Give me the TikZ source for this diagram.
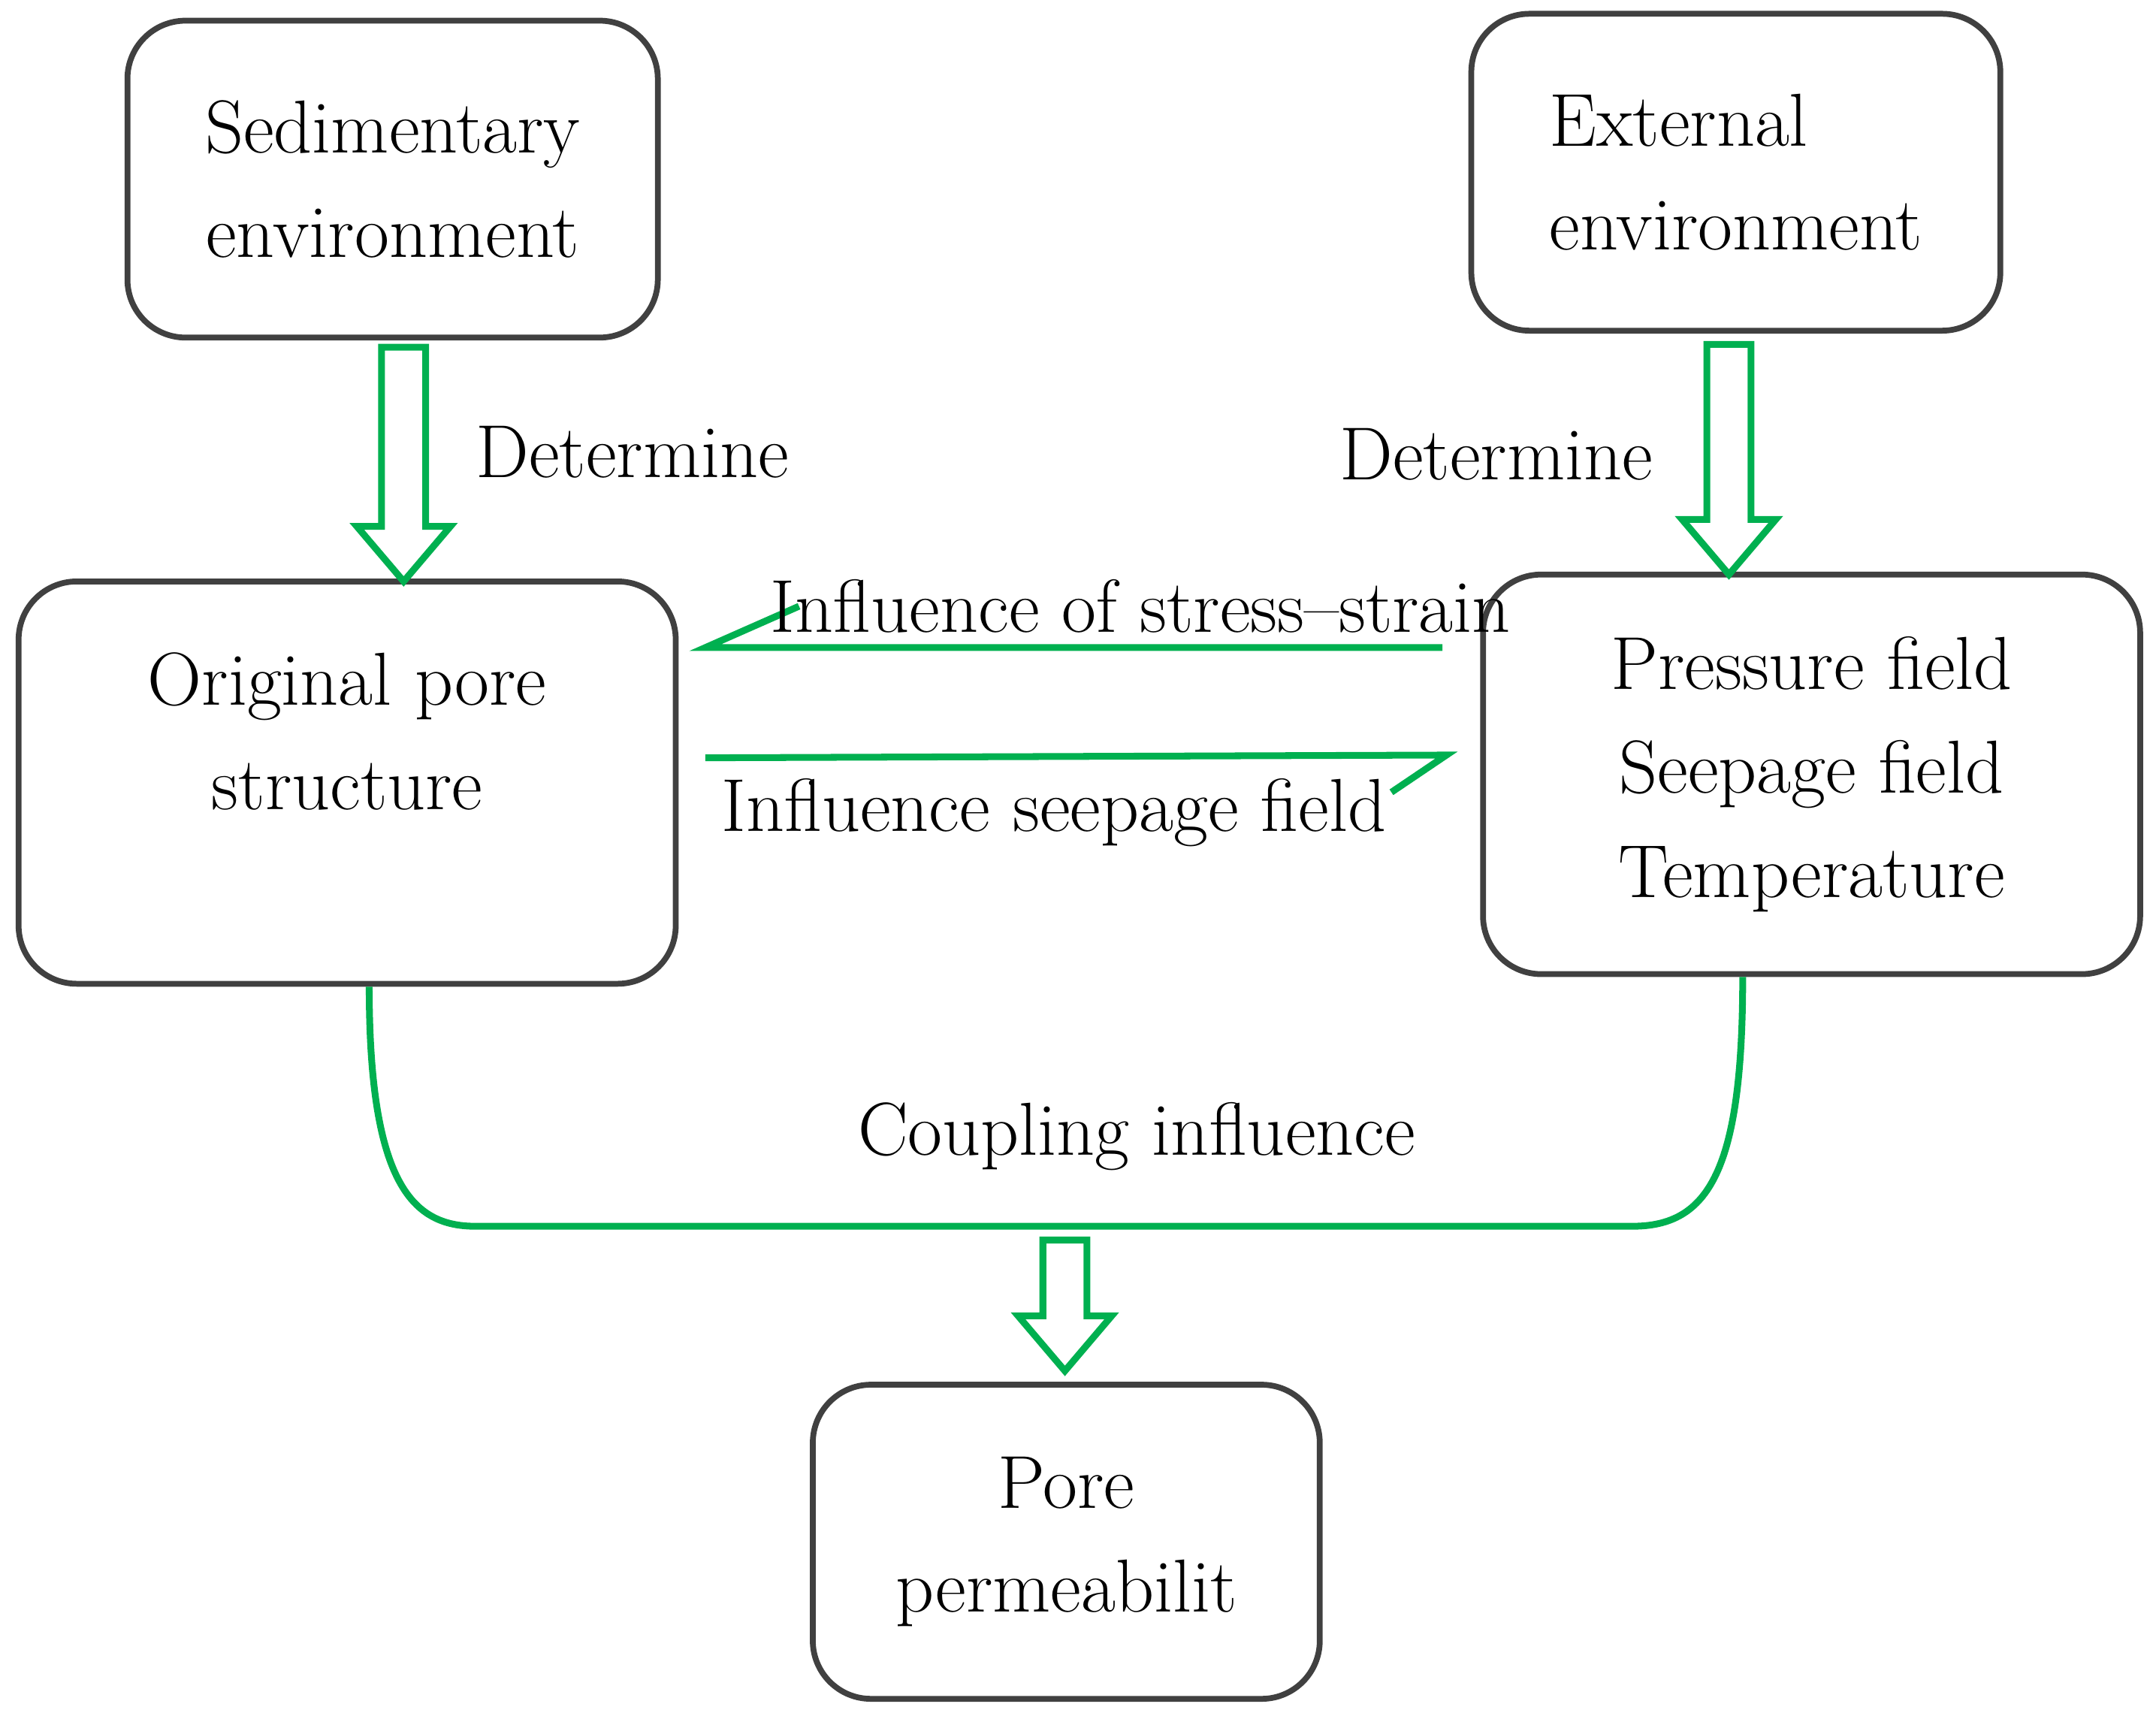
\documentclass[tikz,border=0pt]{standalone}
\usetikzlibrary{calc}
\definecolor{flowgreen}{RGB}{0,176,80}
\tikzset{
  box/.style={draw=black!75, line width=1.2pt, rounded corners=12pt, align=center,
              font=\fontsize{15.5}{21.5}\selectfont},
  lbl/.style={font=\fontsize{15.5}{20}\selectfont},
  gline/.style={draw=flowgreen, line width=1.4pt},
}
% hollow arrow pointing down from top point #1 to tip #2
\newcommand{\hollowdown}[2]{%
  \path[gline] let \p1=(#1), \p2=(#2) in
    (\x1-16*0.01cm,\y1) -- (\x1+16*0.01cm,\y1) -- (\x1+16*0.01cm,\y2+40*0.01cm)
    -- (\x1+34*0.01cm,\y2+40*0.01cm) -- (\x1,\y2) -- (\x1-34*0.01cm,\y2+40*0.01cm)
    -- (\x1-16*0.01cm,\y2+40*0.01cm) -- cycle;}
\begin{document}
\begin{tikzpicture}[x=0.01cm,y=-0.01cm]
\useasboundingbox (0,0) rectangle (1565,1245);
% boxes
\node[box, minimum width=385*0.01cm, minimum height=230*0.01cm] (sed) at (285,130) {Sedimentary\\environment};
\node[box, minimum width=384*0.01cm, minimum height=230*0.01cm, align=left] (ext) at (1260,125) {External\\environment};
\node[box, minimum width=477*0.01cm, minimum height=292*0.01cm, text depth=75*0.01cm] (orig) at (252,568) {Original pore\\structure};
\node[box, minimum width=477*0.01cm, minimum height=290*0.01cm] (field) at (1315,562) {Pressure field\\Seepage field\\Temperature};
\node[box, minimum width=368*0.01cm, minimum height=228*0.01cm] (perm) at (774,1119) {Pore\\permeabilit};
% determine arrows
\coordinate (a1) at (293,252); \coordinate (b1) at (293,422);
\coordinate (a2) at (1255,250); \coordinate (b2) at (1255,417);
\coordinate (a3) at (773,900); \coordinate (b3) at (773,995);
\hollowdown{a1}{b1}
\hollowdown{a2}{b2}
\hollowdown{a3}{b3}
\node[lbl, anchor=west] (det1) at (333,328) {Determine};
\node[lbl, anchor=east] (det2) at (1212,330) {Determine};
% mutual influence
\coordinate (s1) at (1047,470); \coordinate (s2) at (512,470); \coordinate (s3) at (580,440);
\draw[gline] (s1) -- (s2) -- (s3);
\node[lbl] (stress) at (828,440) {Influence of stress--strain};
\coordinate (p1) at (512,550); \coordinate (p2) at (1050,548); \coordinate (p3) at (1010,575);
\draw[gline] (p1) -- (p2) -- (p3);
\node[lbl] (seep) at (765,590) {Influence seepage field};
% coupling
\draw[gline] (orig.south -| 268,0) .. controls (268,860) and (300,890) .. (345,890)
  -- (1185,890) .. controls (1240,890) and (1265,850) .. (field.south -| 1265,0);
\node[lbl] (coup) at (825,825) {Coupling influence};
\end{tikzpicture}
\end{document}
